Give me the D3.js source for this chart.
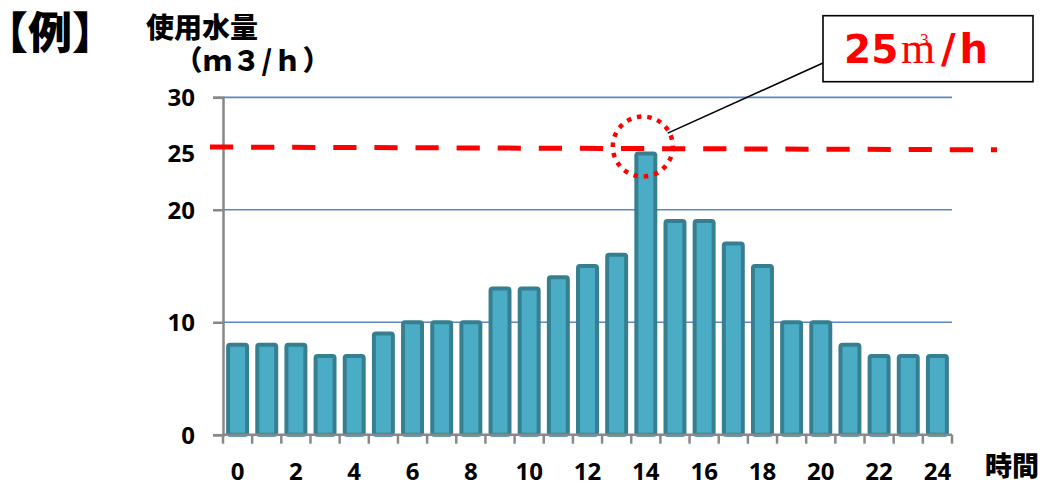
<!DOCTYPE html>
<html>
<head>
<meta charset="utf-8">
<script src="https://cdn.jsdelivr.net/npm/d3@7"></script>
<style>
  html, body { margin: 0; padding: 0; background: #fff; }
  svg { display: block; }
</style>
</head>
<body>
<div id="chart"></div>
<script>
// Hourly water usage (m3/h), hours 0..24
const hours = [0, 1, 2, 3, 4, 5, 6, 7, 8, 9, 10, 11, 12, 13, 14, 15, 16, 17, 18, 19, 20, 21, 22, 23, 24];
const usage = [8, 8, 8, 7, 7, 9, 10, 10, 10, 13, 13, 14, 15, 16, 25, 19, 19, 17, 15, 10, 10, 8, 7, 7, 7];
const yTicks = [0, 10, 20, 30];
const xTickLabels = [0, 2, 4, 6, 8, 10, 12, 14, 16, 18, 20, 22, 24];
const threshold = 25;
const peakHour = 14;

const W = 1043, H = 484;
const plot = { left: 223, right: 952, top: 97.3, bottom: 434.7 };

const cjk = "'Noto Sans CJK JP', 'Noto Sans CJK SC', sans-serif";
const num = "'Open Sans', 'Liberation Sans', sans-serif";

const svg = d3.select("#chart").append("svg")
  .attr("width", W).attr("height", H);

const x = d3.scaleBand()
  .domain(hours)
  .range([plot.left, plot.right])
  .paddingInner(0).paddingOuter(0);

const y = d3.scaleLinear()
  .domain([0, 30])
  .range([plot.bottom, plot.top]);

// Horizontal gridlines
svg.append("g")
  .selectAll("line")
  .data(yTicks.filter(d => d > 0))
  .join("line")
  .attr("x1", plot.left).attr("x2", plot.right)
  .attr("y1", d => y(d)).attr("y2", d => y(d))
  .attr("stroke", "#5b87c4").attr("stroke-width", 1.7);

// Bars
const barW = x.bandwidth() * 0.65;
svg.append("g")
  .selectAll("rect")
  .data(hours)
  .join("rect")
  .attr("x", (d) => x(d) + (x.bandwidth() - barW) / 2)
  .attr("y", (d, i) => y(usage[i]))
  .attr("width", barW)
  .attr("height", (d, i) => y(0) - y(usage[i]))
  .attr("rx", 2).attr("ry", 2)
  .attr("fill", "#4bacc6")
  .attr("stroke", "#367f91")
  .attr("stroke-width", 4);

// Y axis
const yAxis = svg.append("g")
  .attr("transform", `translate(${plot.left},0)`)
  .call(d3.axisLeft(y).tickValues(yTicks).tickSize(10).tickPadding(18).tickFormat(d3.format("d")));
yAxis.select(".domain").attr("stroke", "#888").attr("stroke-width", 2.5);
yAxis.selectAll(".tick line").attr("stroke", "#888").attr("stroke-width", 2.5);
yAxis.selectAll(".tick text")
  .attr("font-family", num).attr("font-weight", 700).attr("font-size", 24)
  .attr("fill", "#000").attr("dy", "0.36em");

// Threshold label on the y axis
svg.append("text")
  .attr("x", plot.left - 28).attr("y", y(threshold))
  .attr("dy", "0.36em")
  .attr("text-anchor", "end")
  .attr("font-family", num).attr("font-weight", 700).attr("font-size", 24)
  .text(threshold);

// X axis (ticks at band boundaries)
const xAxisG = svg.append("g");
xAxisG.append("line")
  .attr("x1", plot.left).attr("x2", plot.right)
  .attr("y1", y(0)).attr("y2", y(0))
  .attr("stroke", "#888").attr("stroke-width", 2.5);
const boundaries = hours.map(h => x(h)).concat([x(hours[hours.length - 1]) + x.bandwidth()]);
xAxisG.selectAll("line.tk")
  .data(boundaries)
  .join("line").attr("class", "tk")
  .attr("x1", d => d).attr("x2", d => d)
  .attr("y1", y(0)).attr("y2", y(0) + 9)
  .attr("stroke", "#888").attr("stroke-width", 2.5);
xAxisG.selectAll("text")
  .data(xTickLabels)
  .join("text")
  .attr("x", d => x(d) + x.bandwidth() / 2)
  .attr("y", 479.5)
  .attr("text-anchor", "middle")
  .attr("font-family", num).attr("font-weight", 700).attr("font-size", 24)
  .text(d => d);

// Threshold dashed line
svg.append("line")
  .attr("x1", plot.left - 13).attr("x2", plot.right + 45)
  .attr("y1", y(threshold) - 6.5).attr("y2", y(threshold) - 3.7)
  .attr("stroke", "#ff0000").attr("stroke-width", 5)
  .attr("stroke-dasharray", "23.2,17.9");

// Dotted circle around the peak
const peakIdx = hours.indexOf(peakHour);
const cx = x(peakHour) + x.bandwidth() / 2 - 3;
const cy = y(usage[peakIdx]) - 7;
svg.append("circle")
  .attr("cx", cx).attr("cy", cy).attr("r", 30)
  .attr("fill", "none")
  .attr("stroke", "#ff0000").attr("stroke-width", 4.5)
  .attr("stroke-dasharray", "4.5,5.9");

// Callout
const box = { x: 823, y: 15.7, w: 210, h: 66 };
svg.append("line")
  .attr("x1", cx + 25).attr("y1", cy - 13.4)
  .attr("x2", box.x).attr("y2", 63)
  .attr("stroke", "#000").attr("stroke-width", 1.6);
svg.append("rect")
  .attr("x", box.x).attr("y", box.y).attr("width", box.w).attr("height", box.h)
  .attr("fill", "#fff").attr("stroke", "#000").attr("stroke-width", 1.6);
const callout = svg.append("text")
  .attr("y", 63.3)
  .attr("fill", "#ff0000");
callout.append("tspan")
  .attr("x", 844)
  .attr("font-family", "'DejaVu Sans', sans-serif").attr("font-weight", 700).attr("font-size", 39)
  .text(usage[peakIdx]);
callout.append("tspan")
  .attr("x", 901)
  .attr("font-family", "'Liberation Serif', 'DejaVu Serif', serif").attr("font-size", 44)
  .text("m");
callout.append("tspan")
  .attr("x", 920).attr("dy", -18)
  .attr("font-family", "'Liberation Serif', 'DejaVu Serif', serif").attr("font-size", 17)
  .text("3");
callout.append("tspan")
  .attr("x", 941).attr("dy", 18)
  .attr("letter-spacing", 4)
  .attr("font-family", "'DejaVu Sans', sans-serif").attr("font-weight", 700).attr("font-size", 40)
  .text("/h");

// Titles
svg.append("text")
  .attr("x", 50).attr("y", 49)
  .attr("text-anchor", "middle")
  .attr("font-family", cjk).attr("font-weight", 900).attr("font-size", 44)
  .text("【例】");
svg.append("text")
  .attr("x", 202).attr("y", 38)
  .attr("text-anchor", "middle")
  .attr("font-family", cjk).attr("font-weight", 900).attr("font-size", 28)
  .text("使用水量");
svg.append("text")
  .attr("x", 253).attr("y", 71)
  .attr("text-anchor", "middle")
  .attr("letter-spacing", 1)
  .attr("font-family", cjk).attr("font-weight", 900).attr("font-size", 28)
  .text("（ｍ３/ｈ）");
svg.append("text")
  .attr("x", 1012).attr("y", 476)
  .attr("text-anchor", "middle")
  .attr("font-family", cjk).attr("font-weight", 900).attr("font-size", 27)
  .text("時間");
</script>
</body>
</html>
